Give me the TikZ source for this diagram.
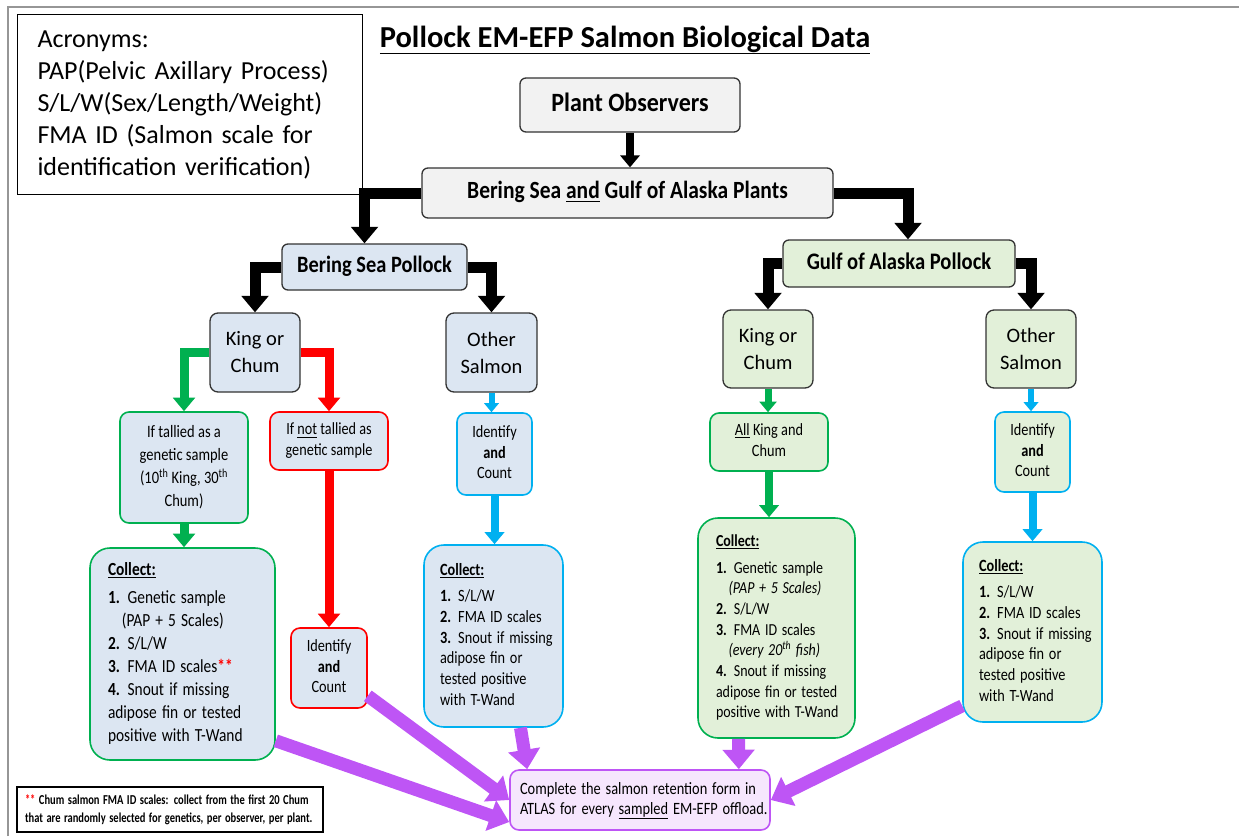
\documentclass[tikz,border=0pt]{standalone}
\usepackage{fontspec}
\setmainfont{Carlito}
\usepackage{graphicx}
\usetikzlibrary{arrows.meta}

\definecolor{topfill}{RGB}{242,242,242}
\definecolor{bsfill}{RGB}{220,230,242}
\definecolor{goafill}{RGB}{226,240,217}
\definecolor{kcgreen}{RGB}{0,176,80}
\definecolor{nored}{RGB}{255,0,0}
\definecolor{othcyan}{RGB}{0,176,240}
\definecolor{atlas}{RGB}{190,85,245}
\definecolor{atlasfill}{RGB}{246,230,253}
\definecolor{framegray}{RGB}{150,150,150}

% text stretched upward a little, as in the scanned chart
\newcommand{\vtxt}[3][c]{\scalebox{1}[#2]{\begin{tabular}{@{}#1@{}}#3\end{tabular}}}
\newcommand{\smallfont}{\fontsize{14.3}{17.2}\selectfont}

\tikzset{
  topbox/.style={draw=black!80, line width=1.3pt, fill=topfill, rounded corners=6pt, inner sep=0pt},
  salbox/.style={draw=black!80, line width=1.3pt, rounded corners=8pt, inner sep=0pt, align=center,
    font=\fontsize{20.5}{27}\selectfont},
  smallbox/.style={line width=1.6pt, rounded corners=9pt, inner sep=0pt, font=\smallfont},
  listbox/.style={line width=1.6pt, rounded corners=20pt, inner ysep=0pt, align=left, font=\smallfont},
  flow/.style={line width=#1, -{Triangle[length=0pt 1.5, width=0pt 2.4]}}
}

\begin{document}
\begin{tikzpicture}[x=1pt,y=-1pt]
\useasboundingbox (0,0) rectangle (1239,836);
\draw[framegray, line width=2.5pt] (8,836) -- (8,7) -- (1239,7);

\node[draw, line width=1pt, fill=white, anchor=north west, minimum height=180, text width=305,
  inner xsep=20, align=left, font=\fontsize{26}{32}\selectfont] (acro) at (17,14)
  {Acronyms:\\PAP(Pelvic Axillary Process)\\S/L/W(Sex/Length/Weight)\\FMA ID (Salmon scale for\\identification verification)};
\node[font=\fontsize{30.5}{36}\selectfont\bfseries] (title) at (625,40) {\underline{Pollock EM-EFP Salmon Biological Data}};

\node[topbox, minimum width=220, minimum height=54, font=\fontsize{24}{28}\selectfont\bfseries] (plantobs) at (630,105)
  {\vtxt{1.1}{Plant Observers}};
\node[topbox, minimum width=411, minimum height=50, font=\fontsize{21.5}{26}\selectfont\bfseries] (plants) at (627.5,193)
  {\vtxt{1.15}{Bering Sea \underline{and} Gulf of Alaska Plants}};
\node[topbox, fill=bsfill, minimum width=185, minimum height=46, font=\fontsize{20.4}{24}\selectfont\bfseries] (bsp) at (374.5,267)
  {\vtxt{1.15}{Bering Sea Pollock}};
\node[topbox, fill=goafill, minimum width=232, minimum height=47, font=\fontsize{20.6}{24}\selectfont\bfseries] (goap) at (899,263.5)
  {\vtxt{1.15}{Gulf of Alaska Pollock}};

\node[salbox, fill=bsfill, minimum width=90, minimum height=79] (bskc) at (255,352.5) {King or\\Chum};
\node[salbox, fill=bsfill, minimum width=91, minimum height=79] (bsos) at (491.5,352.5) {Other\\Salmon};
\node[salbox, fill=goafill, minimum width=90, minimum height=78] (gokc) at (768,349) {King or\\Chum};
\node[salbox, fill=goafill, minimum width=90, minimum height=78] (goos) at (1031,349) {Other\\Salmon};

\node[smallbox, draw=kcgreen, fill=bsfill, minimum width=128, minimum height=111, font=\fontsize{14.5}{19.2}\selectfont] (tally) at (184,467.5)
  {\vtxt{1.2}{If tallied as a\\genetic sample\\(10\textsuperscript{th} King, 30\textsuperscript{th}\\Chum)}};
\node[smallbox, draw=nored, fill=bsfill, minimum width=118, minimum height=58, font=\fontsize{14.2}{16.7}\selectfont] (nottally) at (329,441)
  {\vtxt{1.2}{If \underline{not} tallied as\\genetic sample}};
\node[smallbox, draw=nored, fill=bsfill, minimum width=76, minimum height=80] (redid) at (329,668)
  {\vtxt{1.2}{Identify\\\textbf{and}\\Count}};
\node[smallbox, draw=othcyan, fill=bsfill, minimum width=75, minimum height=82] (bsid) at (494.5,454)
  {\vtxt{1.2}{Identify\\\textbf{and}\\Count}};
\node[smallbox, draw=kcgreen, fill=goafill, minimum width=118, minimum height=58] (allkc) at (769,442)
  {\vtxt{1.2}{\underline{All} King and\\Chum}};
\node[smallbox, draw=othcyan, fill=goafill, minimum width=75, minimum height=80] (goid) at (1032.5,452)
  {\vtxt{1.2}{Identify\\\textbf{and}\\Count}};

\node[listbox, draw=kcgreen, fill=bsfill, text width=149, inner xsep=18, minimum height=212,
  font=\fontsize{15.4}{19.2}\selectfont] (col1) at (182.5,654)
  {\vtxt[l]{1.2}{\underline{\textbf{Collect:}}\\[4pt]
  \textbf{1.} Genetic sample\\
  \hspace*{0.9em}(PAP + 5 Scales)\\
  \textbf{2.} S/L/W\\
  \textbf{3.} FMA ID scales\textcolor{nored}{\textbf{**}}\\
  \textbf{4.} Snout if missing\\
  adipose fin or tested\\
  positive with T-Wand}};
\node[listbox, draw=othcyan, fill=bsfill, text width=107, inner xsep=16, minimum height=182] (col2) at (493.5,636)
  {\vtxt[l]{1.2}{\underline{\textbf{Collect:}}\\[5pt]
  \textbf{1.} S/L/W\\
  \textbf{2.} FMA ID scales\\
  \textbf{3.} Snout if missing\\
  adipose fin or\\
  tested positive\\
  with T-Wand}};
\node[listbox, draw=kcgreen, fill=goafill, text width=121, inner xsep=18, minimum height=220,
  font=\fontsize{14}{17.2}\selectfont] (col3) at (776.5,628)
  {\vtxt[l]{1.2}{\underline{\textbf{Collect:}}\\[5pt]
  \textbf{1.} Genetic sample\\
  \hspace*{0.9em}\textit{(PAP + 5 Scales)}\\
  \textbf{2.} S/L/W\\
  \textbf{3.} FMA ID scales\\
  \hspace*{0.9em}\textit{(every 20\textsuperscript{th} fish)}\\
  \textbf{4.} Snout if missing\\
  adipose fin or tested\\
  positive with T-Wand}};
\node[listbox, draw=othcyan, fill=goafill, text width=107, inner xsep=16, minimum height=180] (col4) at (1032.5,632)
  {\vtxt[l]{1.2}{\underline{\textbf{Collect:}}\\[5pt]
  \textbf{1.} S/L/W\\
  \textbf{2.} FMA ID scales\\
  \textbf{3.} Snout if missing\\
  adipose fin or\\
  tested positive\\
  with T-Wand}};

\node[smallbox, draw=atlas, fill=atlasfill, text width=240, inner xsep=10, align=left, minimum height=60,
  font=\fontsize{14.4}{16.7}\selectfont] (final) at (640,800)
  {\vtxt[l]{1.2}{Complete the salmon retention form in\\ATLAS for every \underline{sampled} EM-EFP offload.}};
\node[draw, line width=1.8pt, fill=white, text width=290, inner xsep=8, inner ysep=0pt, align=left, minimum height=45,
  font=\fontsize{10.5}{13.8}\selectfont\bfseries] (foot) at (170,809.5)
  {\vtxt[l]{1.3}{\textcolor{nored}{**} Chum salmon FMA ID scales: collect from the first 20 Chum\\that are randomly selected for genetics, per observer, per plant.}};

% black branches
\draw[flow=8] (plantobs.south) -- (plantobs.south |- plants.north);
\draw[flow=11] (plants.west) -| ([xshift=-10]bsp.north);
\draw[flow=11] (plants.east) -| ([xshift=9]goap.north);
\draw[flow=11] (bsp.west) -| (bskc.north);
\draw[flow=11] (bsp.east) -| (bsos.north);
\draw[flow=11] (goap.west) -| (gokc.north);
\draw[flow=11] (goap.east) -| (goos.north);

% bering sea side
\draw[flow=9, kcgreen] (bskc.west) -| (tally.north);
\draw[flow=9, nored] (bskc.east) -| (nottally.north);
\draw[flow=9, kcgreen] (tally.south) -- (tally.south |- col1.north);
\draw[flow=9, nored] (nottally.south) -- (redid.north);
\draw[flow=6, othcyan] (bsos.south) -- (bsos.south |- bsid.north);
\draw[flow=8, othcyan] (bsid.south) -- (bsid.south |- col2.north);

% gulf of alaska side
\draw[flow=7, kcgreen] (gokc.south) -- (gokc.south |- allkc.north);
\draw[flow=8, kcgreen] (allkc.south) -- (allkc.south |- col3.north);
\draw[flow=6, othcyan] (goos.south) -- (goos.south |- goid.north);
\draw[flow=8, othcyan] (goid.south) -- (goid.south |- col4.north);

% to the ATLAS form
\draw[flow=13, atlas] ([yshift=20]col1.south east) -- ([yshift=-22]final.west);
\draw[flow=13, atlas] ([yshift=13]redid.south east) -- (final.west);
\draw[flow=13, atlas] ([xshift=27]col2.south) -- ([xshift=18]final.north west);
\draw[flow=13, atlas] ([xshift=-38]col3.south) -- ([xshift=-32]final.north east);
\draw[flow=13, atlas] ([yshift=17]col4.south west) -- (final.east);
\end{tikzpicture}
\end{document}
